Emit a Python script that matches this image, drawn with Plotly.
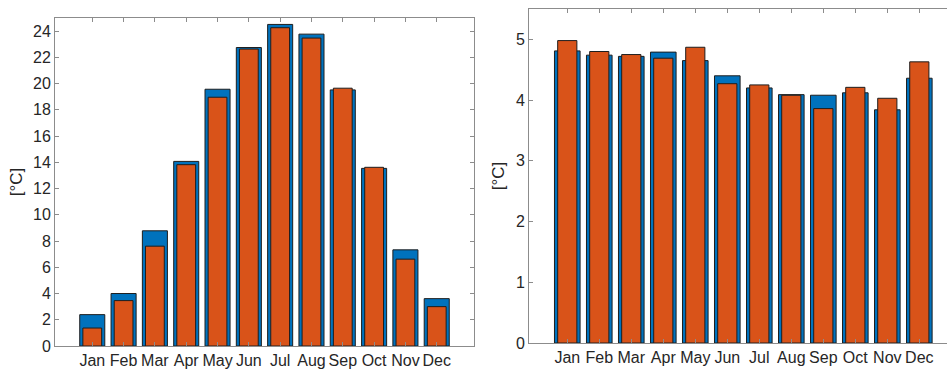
import plotly.graph_objects as go

months = ["Jan", "Feb", "Mar", "Apr", "May", "Jun", "Jul", "Aug", "Sep", "Oct", "Nov", "Dec"]
xpos = list(range(1, 13))

left_blue = [2.39, 4.00, 8.78, 14.07, 19.57, 22.75, 24.51, 23.77, 19.52, 13.54, 7.33, 3.61]
left_orange = [1.37, 3.46, 7.61, 13.82, 18.96, 22.63, 24.26, 23.47, 19.65, 13.62, 6.62, 3.00]

right_blue = [4.81, 4.74, 4.72, 4.79, 4.65, 4.40, 4.20, 4.09, 4.08, 4.12, 3.84, 4.36]
right_orange = [4.98, 4.80, 4.75, 4.69, 4.87, 4.27, 4.25, 4.08, 3.86, 4.21, 4.03, 4.63]

BLUE = "#0072BD"
ORANGE = "#D95319"
EDGE = "#1e1e1e"
AXC = "#8c8c8c"
TXT = "#262626"
FONT = "Liberation Sans, Arial, sans-serif"

fig = go.Figure()

def add_bars(vals, color, width, xa, ya):
    fig.add_trace(go.Bar(
        x=xpos, y=vals, width=[width] * len(vals),
        marker=dict(color=color, line=dict(color=EDGE, width=1)),
        xaxis=xa, yaxis=ya, showlegend=False, hoverinfo="skip",
    ))

add_bars(left_blue, BLUE, 0.8, "x", "y")
add_bars(left_orange, ORANGE, 0.6, "x", "y")
add_bars(right_blue, BLUE, 0.8, "x2", "y2")
add_bars(right_orange, ORANGE, 0.6, "x2", "y2")

W, H = 947, 371

common_x = dict(
    tickmode="array", tickvals=xpos, ticktext=months,
    ticks="inside", ticklen=4, tickcolor=AXC, showline=True, linecolor=AXC,
    linewidth=1, showgrid=False, zeroline=False, automargin=False,
    tickfont=dict(family=FONT, size=16, color=TXT), mirror="ticks",
)
common_y = dict(
    ticks="inside", ticklen=4, tickcolor=AXC, showline=True, linecolor=AXC,
    linewidth=1, showgrid=False, zeroline=False, automargin=False,
    tickfont=dict(family=FONT, size=16, color=TXT),
)

fig.update_layout(
    width=W, height=H,
    margin=dict(l=0, r=0, t=0, b=0, autoexpand=False),
    paper_bgcolor="white", plot_bgcolor="white",
    barmode="overlay",
    xaxis=dict(domain=[55 / W, 474 / W], range=[-0.19, 13.19], anchor="y", **common_x),
    yaxis=dict(domain=[(H - 346) / H, (H - 18) / H], range=[0, 25], dtick=2,
               anchor="x", mirror="ticks",
               title=dict(text="[°C]", standoff=6, font=dict(family=FONT, size=17, color=TXT)),
               **common_y),
    xaxis2=dict(domain=[529 / W, 1.0], range=[-0.196, 12.865], anchor="y2", **common_x),
    yaxis2=dict(domain=[(H - 343) / H, (H - 9) / H], range=[0, 5.5], dtick=1,
                anchor="x2", mirror=False,
                title=dict(text="[°C]", standoff=6, font=dict(family=FONT, size=17, color=TXT)),
                **common_y),
)

fig.write_html(
    "out.html",
    config={"displayModeBar": False},
    post_script="document.body.style.margin='0';document.body.style.padding='0';",
)
